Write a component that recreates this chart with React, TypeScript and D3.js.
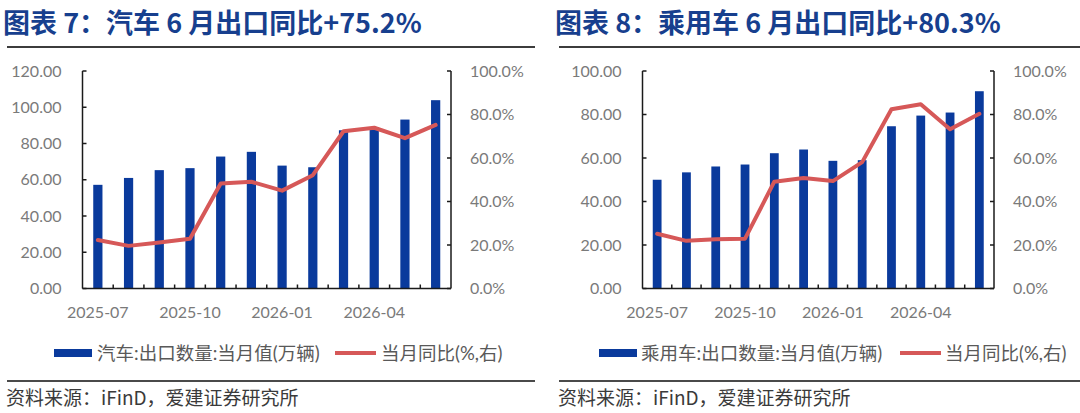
import React from 'react';
import * as d3 from 'd3';

const months = ['2025-07', '2025-08', '2025-09', '2025-10', '2025-11', '2025-12', '2026-01', '2026-02', '2026-03', '2026-04', '2026-05', '2026-06'];
const xTickLabels = ['2025-07', '2025-10', '2026-01', '2026-04'];

const carExports = [57.2, 61.0, 65.3, 66.4, 72.8, 75.4, 67.8, 66.9, 87.3, 88.5, 93.2, 103.9];
const carYoY = [22.3, 19.6, 21.1, 22.9, 48.3, 49.1, 45.0, 52.1, 72.3, 73.9, 69.1, 75.2];
const paxExports = [50.0, 53.4, 56.1, 57.0, 62.2, 63.9, 58.7, 59.0, 74.6, 79.5, 80.9, 90.7];
const paxYoY = [25.2, 21.9, 22.6, 22.9, 49.1, 50.8, 49.4, 58.1, 82.4, 84.7, 73.2, 80.3];

const carLeftTicks = [0, 20, 40, 60, 80, 100, 120];
const paxLeftTicks = [0, 20, 40, 60, 80, 100];
const rightTicks = [0, 20, 40, 60, 80, 100];

const BLUE = '#0a3a9c';
const RED = '#d65858';
const TITLE = '#173f8e';
const TICK = '#7a7a7a';
const LATIN = "Lato, 'Noto Sans CJK SC', sans-serif";
const CJK = "'Noto Sans CJK SC', sans-serif";

type PanelProps = {
  ox: number;
  tx: number;
  title: string;
  barLegend: string;
  bars: number[];
  yoy: number[];
  leftTicks: number[];
  x0: number;
  x1: number;
  legend: { sw: number; tx: number; rsw: number; rtx: number };
};

function Panel({ ox, tx, title, barLegend, bars, yoy, leftTicks, x0, x1, legend }: PanelProps) {
  const yTop = 71;
  const yBase = 288.5;
  const yMax = leftTicks[leftTicks.length - 1];
  const x = d3.scaleBand<string>().domain(months).range([x0, x1]).paddingInner(0.7).paddingOuter(0.35);
  const yL = d3.scaleLinear().domain([0, yMax]).range([yBase, yTop]);
  const yR = d3.scaleLinear().domain([0, 100]).range([yBase, yTop]);
  const step = x.step();
  const cx = (m: string) => (x(m) as number) + x.bandwidth() / 2;
  const line = d3
    .line<number>()
    .x((_, i) => cx(months[i]))
    .y((d) => yR(d));
  const boundaries = d3.range(1, months.length).map((i) => x0 + i * step);

  return (
    <g>
      <text x={tx} y={33} fontFamily={CJK} fontWeight={700} fontSize={27} fill={TITLE}>
        {title}
      </text>
      <line x1={tx + 4} x2={ox + 535} y1={47} y2={47} stroke="#3c3c3c" strokeWidth={2} />

      {bars.map((v, i) => (
        <rect key={i} x={x(months[i])} y={yL(v)} width={x.bandwidth()} height={yBase - yL(v)} fill={BLUE} />
      ))}

      <path d={line(yoy) || ''} fill="none" stroke={RED} strokeWidth={4} strokeLinejoin="round" strokeLinecap="round" />

      <line x1={x0} x2={x0} y1={yTop} y2={yBase} stroke="#1a1a1a" strokeWidth={1.5} />
      <line x1={x1} x2={x1} y1={yTop} y2={yBase} stroke="#1a1a1a" strokeWidth={1.5} />
      <line x1={x0} x2={x1} y1={yBase} y2={yBase} stroke="#1a1a1a" strokeWidth={1.5} />
      {leftTicks.map((t) => (
        <g key={'l' + t}>
          <line x1={x0} x2={x0 + 4} y1={yL(t)} y2={yL(t)} stroke="#1a1a1a" strokeWidth={1.5} />
          <text x={x0 - 21} y={yL(t) + 5.5} textAnchor="end" fontFamily={LATIN} fontSize={16} fill={TICK}>
            {d3.format('.2f')(t)}
          </text>
        </g>
      ))}
      {rightTicks.map((t) => (
        <g key={'r' + t}>
          <line x1={x1 - 4} x2={x1} y1={yR(t)} y2={yR(t)} stroke="#1a1a1a" strokeWidth={1.5} />
          <text x={x1 + 19} y={yR(t) + 5.5} textAnchor="start" fontFamily={LATIN} fontSize={16} fill={TICK}>
            {d3.format('.1f')(t) + '%'}
          </text>
        </g>
      ))}
      {boundaries.map((bx, i) => (
        <line key={'b' + i} x1={bx} x2={bx} y1={yBase} y2={yBase - 4} stroke="#1a1a1a" strokeWidth={1.5} />
      ))}
      {xTickLabels.map((m) => (
        <text key={m} x={cx(m)} y={318} textAnchor="middle" fontFamily={LATIN} fontSize={16} fill={TICK}>
          {m}
        </text>
      ))}

      <rect x={ox + legend.sw} y={349} width={38} height={8} fill={BLUE} />
      <text x={ox + legend.tx} y={359.5} fontFamily={LATIN} fontSize={18.5} fill="#595959">
        {barLegend}
      </text>
      <line x1={ox + legend.rsw} x2={ox + legend.rsw + 41} y1={353} y2={353} stroke={RED} strokeWidth={4} />
      <text x={ox + legend.rtx} y={359.5} fontFamily={LATIN} fontSize={18.5} fill="#595959">
        当月同比(%,右)
      </text>

      <line x1={tx + 4} x2={ox + 535} y1={381} y2={381} stroke="#4a4a4a" strokeWidth={2} />
      <text x={tx + 3} y={405} fontFamily={CJK} fontSize={19} fill="#3a3a3a">
        资料来源：iFinD，爱建证券研究所
      </text>
    </g>
  );
}

export default function App() {
  return (
    <svg width={1080} height={413} style={{ position: 'absolute', left: 0, top: 0, background: '#fff' }}>
      <rect width={1080} height={413} fill="#fff" />
      <Panel
        ox={0}
        tx={3}
        title="图表 7：汽车 6 月出口同比+75.2%"
        barLegend="汽车:出口数量:当月值(万辆)"
        bars={carExports}
        yoy={carYoY}
        leftTicks={carLeftTicks}
        x0={82.5}
        x1={451}
        legend={{ sw: 54, tx: 97, rsw: 335, rtx: 381 }}
      />
      <Panel
        ox={545}
        tx={555}
        title="图表 8：乘用车 6 月出口同比+80.3%"
        barLegend="乘用车:出口数量:当月值(万辆)"
        bars={paxExports}
        yoy={paxYoY}
        leftTicks={paxLeftTicks}
        x0={642.5}
        x1={994}
        legend={{ sw: 54, tx: 96, rsw: 355, rtx: 400 }}
      />
    </svg>
  );
}
